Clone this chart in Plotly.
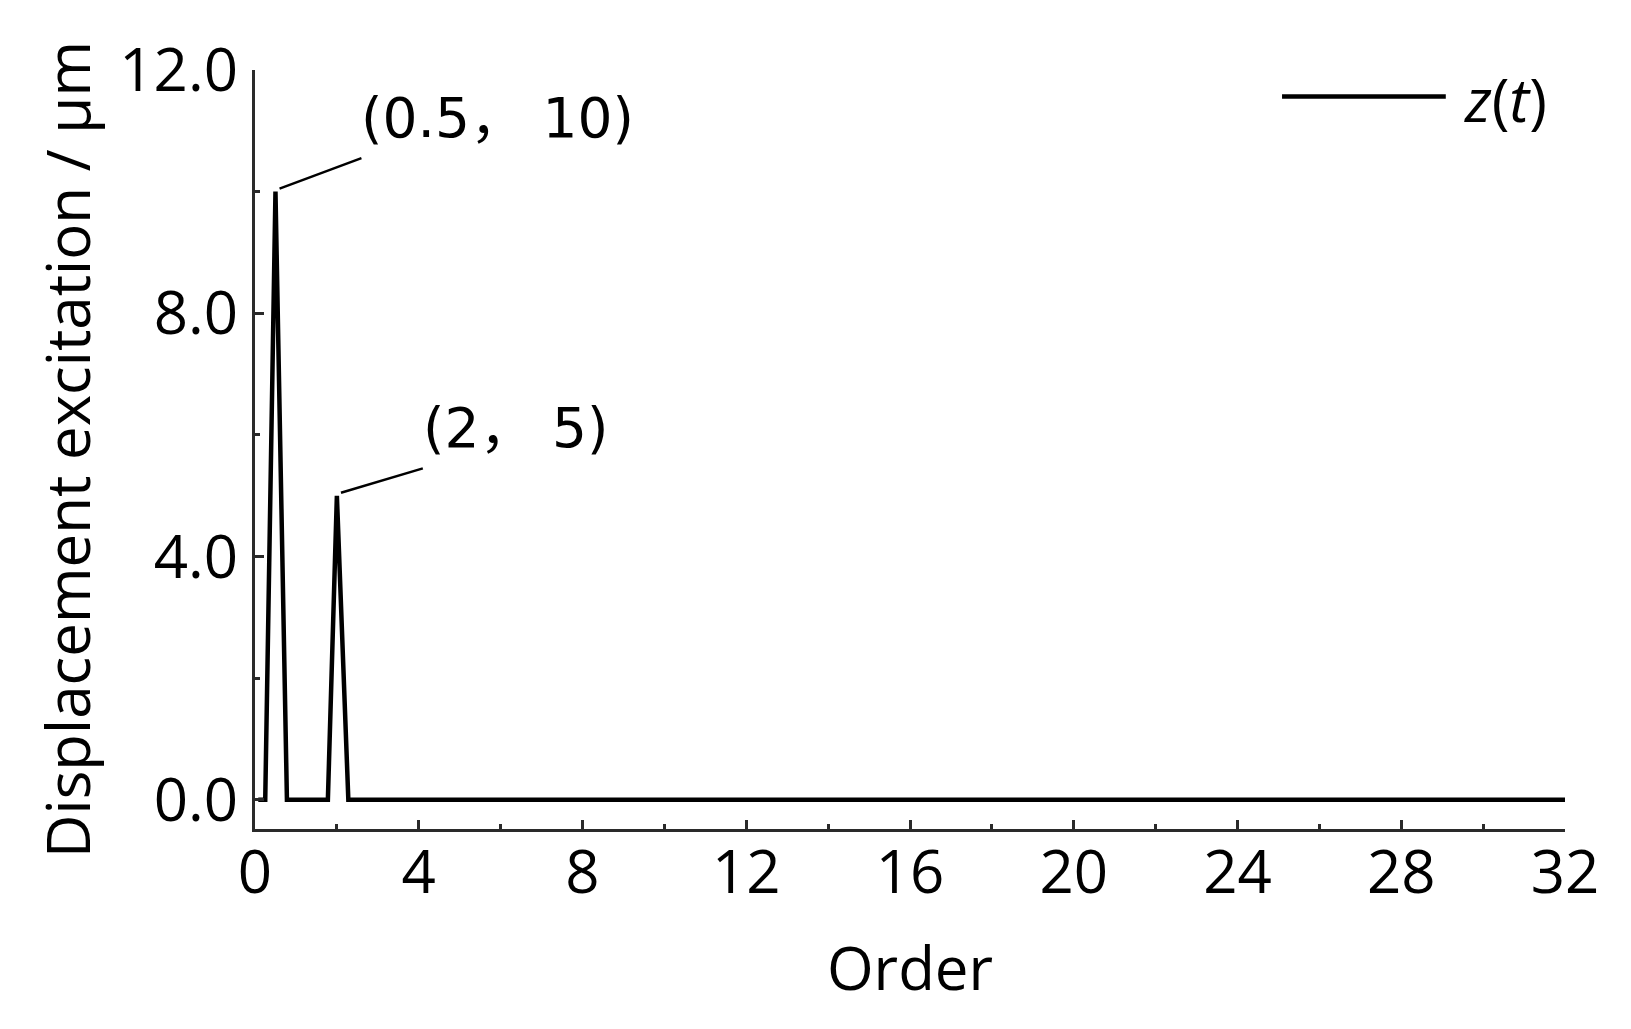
import plotly.graph_objects as go

# excitation spectrum z(t): order vs displacement (um)
order = [0.08, 0.25, 0.5, 0.78, 1.78, 2.0, 2.28, 32.0]
displacement = [0, 0, 10, 0, 0, 5, 0, 0]

peak_orders = [0.5, 2]
peak_values = [10, 5]
peak_labels = ["(0.5， 10)", "(2， 5)"]

font_main = "Open Sans, DejaVu Sans, sans-serif"
font_note = "DejaVu Sans, Noto Sans CJK SC, sans-serif"
axis_color = "#2a2a2a"

fig = go.Figure()
fig.add_trace(go.Scatter(
    x=order, y=displacement, mode="lines", name="z(t)",
    line=dict(color="black", width=4.5),
    showlegend=False,
))

# leader lines + coordinate labels for the two peaks
offsets = [(2.1, 0.55), (2.1, 0.45)]
for px, py, lab, (dx, dy) in zip(peak_orders, peak_values, peak_labels, offsets):
    fig.add_shape(type="line", xref="x", yref="y",
                  x0=px + 0.1, y0=py + 0.05, x1=px + dx, y1=py + dy,
                  line=dict(color="black", width=2.5))
    fig.add_annotation(x=px + dx - 0.05, y=py + dy + 0.1, xref="x", yref="y",
                       text=lab, showarrow=False, xanchor="left", yanchor="bottom",
                       font=dict(family=font_note, size=55, color="black"))

# legend drawn by hand (long line sample)
fig.add_shape(type="line", xref="paper", yref="paper",
              x0=0.784, x1=0.909, y0=0.965, y1=0.965,
              line=dict(color="black", width=4.5))
fig.add_annotation(x=0.921, y=0.962, xref="paper", yref="paper",
                   text="<i>z</i>(<i>t</i>)", showarrow=False,
                   xanchor="left", yanchor="middle",
                   font=dict(family=font_main, size=60, color="black"))

fig.update_layout(
    width=1631, height=1029,
    plot_bgcolor="white", paper_bgcolor="white",
    margin=dict(l=247, r=74, t=62, b=208),
    font=dict(family=font_main, size=60, color="black"),
    showlegend=False,
)
fig.update_xaxes(
    range=[0, 32], dtick=4, tick0=0,
    showline=True, linecolor=axis_color, linewidth=3,
    ticks="inside", ticklen=9, tickwidth=3, tickcolor=axis_color,
    minor=dict(dtick=2, ticks="inside", ticklen=5, tickwidth=3, tickcolor=axis_color),
    showgrid=False, zeroline=False,
    ticklabelstandoff=-11,
    title=dict(text="Order", standoff=38, font=dict(size=60)),
    tickfont=dict(size=60),
)
fig.update_yaxes(
    range=[-0.48, 12], dtick=4, tick0=0, tickformat=".1f",
    showline=True, linecolor=axis_color, linewidth=3,
    ticks="inside", ticklen=9, tickwidth=3, tickcolor=axis_color,
    minor=dict(dtick=2, ticks="inside", ticklen=5, tickwidth=3, tickcolor=axis_color),
    showgrid=False, zeroline=False,
    ticklabelstandoff=2,
    title=dict(text="Displacement excitation / μm", standoff=10, font=dict(size=60)),
    tickfont=dict(size=60),
)

fig.write_html("out.html")
